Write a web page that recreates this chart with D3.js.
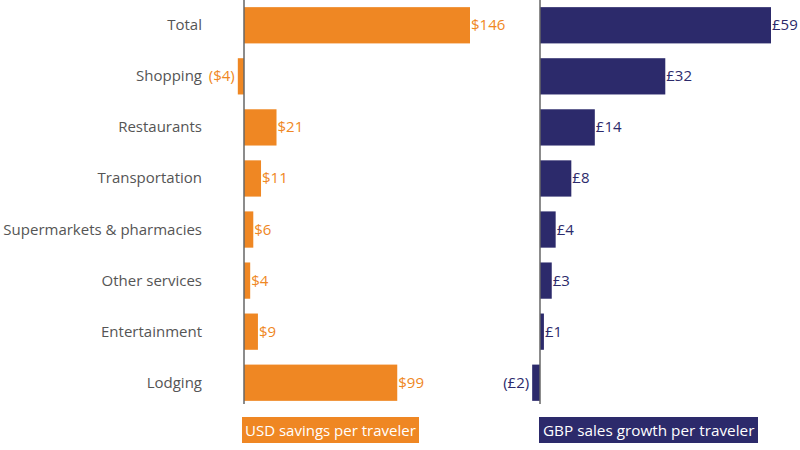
<!DOCTYPE html>
<html><head><meta charset="utf-8">
<script src="https://cdn.jsdelivr.net/npm/d3@7"></script>
<style>body{margin:0;background:#fff}svg{display:block;font-family:"Open Sans","Noto Sans",sans-serif}</style>
</head><body><svg id="c" width="800" height="450"></svg>
<script>
const categories = ["Total","Shopping","Restaurants","Transportation","Supermarkets & pharmacies","Other services","Entertainment","Lodging"];
const usdValues = [146,-4,21,11,6,4,9,99];
const gbpValues = [59,32,14,8,4,3,1,-2];
const legendLabels = ["USD savings per traveler","GBP sales growth per traveler"];

const orange = "#EF8723", navy = "#2C2A6B";
const svg = d3.select("#c");
const y = d3.scaleBand().domain(categories).range([0, 408]).paddingInner(0.29).paddingOuter(0.14);
const xU = d3.scaleLinear().domain([0,146]).range([244,470]);
const xG = d3.scaleLinear().domain([0,59]).range([540,771]);

const fmtU = v => v < 0 ? `($${-v})` : `$${v}`;
const fmtG = v => v < 0 ? `(£${-v})` : `£${v}`;

// category labels
svg.append("g").selectAll("text").data(categories).join("text")
  .attr("x", 202).attr("y", d => y(d) + y.bandwidth()/2 - 1)
  .attr("text-anchor","end").attr("dominant-baseline","central")
  .attr("fill","#555").attr("font-size",15).text(d => d);

function panel(x, vals, color, fmt) {
  const g = svg.append("g");
  g.selectAll("rect").data(vals).join("rect")
    .attr("x", d => x(Math.min(0,d))).attr("y", (d,i) => y(categories[i]))
    .attr("width", d => Math.abs(x(d) - x(0))).attr("height", y.bandwidth())
    .attr("fill", color);
  g.selectAll("text").data(vals).join("text")
    .attr("x", d => d < 0 ? x(d) - 3 : x(d) + 1)
    .attr("y", (d,i) => y(categories[i]) + y.bandwidth()/2 - 1)
    .attr("text-anchor", d => d < 0 ? "end" : "start")
    .attr("dominant-baseline","central")
    .attr("fill", color).attr("font-size",15).text(fmt);
  g.append("line").attr("x1", x(0)).attr("x2", x(0)).attr("y1", 0).attr("y2", 404)
    .attr("stroke","#666").attr("stroke-width",1.5);
}
panel(xU, usdValues, orange, fmtU);
panel(xG, gbpValues, navy, fmtG);

// legend boxes
const leg = [{x:242,w:177,tx:245,c:orange,t:legendLabels[0],fs:15},{x:539,w:219,tx:543,c:navy,t:legendLabels[1],fs:15.3}];
leg.forEach(l => {
  svg.append("rect").attr("x",l.x).attr("y",417).attr("width",l.w).attr("height",26).attr("fill",l.c);
  svg.append("text").attr("x",l.tx).attr("y",430).attr("dominant-baseline","central")
    .attr("fill","#fff").attr("font-size",l.fs).text(l.t);
});
</script></body></html>
